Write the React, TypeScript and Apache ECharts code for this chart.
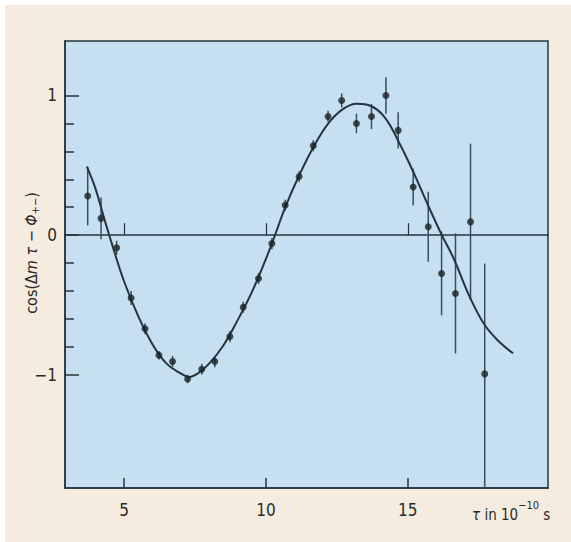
import React, { useEffect, useRef } from "react";
import * as echarts from "echarts";

// fitted curve
const curveX = [3.69, 4.0, 4.3, 4.6, 5.0, 5.5, 6.0, 6.5, 7.0, 7.3, 7.6, 8.0, 8.5, 9.0, 9.5, 10.0, 10.32, 10.7, 11.2, 11.7, 12.2, 12.7, 13.2, 13.7, 14.2, 14.7, 15.2, 15.7, 16.2, 16.6, 17.2, 17.7, 18.2, 18.71];
const curveY = [0.49, 0.33, 0.12, -0.08, -0.33, -0.58, -0.78, -0.92, -0.99, -1.015, -0.99, -0.92, -0.79, -0.61, -0.41, -0.17, 0.0, 0.21, 0.44, 0.64, 0.8, 0.9, 0.94, 0.925, 0.84, 0.66, 0.45, 0.22, 0.0, -0.16, -0.45, -0.64, -0.76, -0.845];

// measured points
const pointX = [3.72, 4.19, 4.74, 5.25, 5.74, 6.23, 6.71, 7.24, 7.74, 8.2, 8.73, 9.2, 9.74, 10.21, 10.68, 11.17, 11.67, 12.19, 12.67, 13.19, 13.72, 14.23, 14.66, 15.19, 15.72, 16.19, 16.68, 17.21, 17.71];
const pointY = [0.28, 0.12, -0.09, -0.45, -0.67, -0.86, -0.905, -1.03, -0.96, -0.905, -0.726, -0.516, -0.31, -0.06, 0.214, 0.42, 0.64, 0.85, 0.964, 0.8, 0.85, 1.0, 0.75, 0.345, 0.06, -0.274, -0.417, 0.095, -0.993];
const errUp = [0.21, 0.15, 0.05, 0.05, 0.04, 0.03, 0.04, 0.03, 0.04, 0.04, 0.04, 0.04, 0.04, 0.04, 0.04, 0.04, 0.04, 0.04, 0.05, 0.07, 0.09, 0.13, 0.13, 0.13, 0.25, 0.3, 0.43, 0.56, 0.79];
const errDown = [0.21, 0.15, 0.05, 0.05, 0.04, 0.03, 0.04, 0.03, 0.04, 0.04, 0.04, 0.04, 0.04, 0.04, 0.04, 0.04, 0.04, 0.04, 0.05, 0.07, 0.09, 0.13, 0.13, 0.13, 0.25, 0.3, 0.43, 0.56, 0.9];

const xTicks = [5, 10, 15];
const yMajor = [-1, 0, 1];
const yMinor = [-0.8, -0.6, -0.4, -0.2, 0.2, 0.4, 0.6, 0.8];

const FONT = "'Liberation Sans Narrow', 'DejaVu Sans Condensed', 'Roboto', 'Noto Sans', sans-serif";
const INK = "#26343c";
const TXT = "#2a2a2a";

export default function App() {
  const ref = useRef<HTMLDivElement>(null);
  useEffect(() => {
    if (!ref.current) return;
    const chart = echarts.init(ref.current, undefined, { renderer: "svg" });
    const curve = curveX.map((x, i) => [x, curveY[i]]);
    const pts = pointX.map((x, i) => [x, pointY[i]]);
    const bars = pointX.map((x, i) => [x, pointY[i] - errDown[i], pointY[i] + errUp[i]]);
    const fmt = (v: number) => (v < 0 ? "\u2212" + Math.abs(v) : String(v));
    chart.setOption({
      animation: false,
      backgroundColor: "transparent",
      textStyle: { fontFamily: FONT },
      grid: {
        left: 65, top: 41, right: 23, bottom: 54,
        show: true, backgroundColor: "#c6e0f2", borderColor: INK, borderWidth: 1.5,
      },
      xAxis: [
        {
          type: "value", min: 2.92, max: 19.94, position: "bottom",
          axisLine: { show: true, onZero: false, lineStyle: { color: INK, width: 1.5 } },
          axisTick: { show: true, inside: true, length: 10, customValues: xTicks, lineStyle: { color: INK, width: 1.5 } },
          axisLabel: { show: true, customValues: xTicks, margin: 13, fontSize: 17, color: TXT, fontFamily: FONT },
          splitLine: { show: false },
        },
        {
          type: "value", min: 2.92, max: 19.94, position: "bottom",
          axisLine: { show: true, onZero: true, lineStyle: { color: INK, width: 1.5 } },
          axisTick: { show: true, inside: true, length: 12, customValues: xTicks, lineStyle: { color: INK, width: 1.2 } },
          axisLabel: { show: false },
          splitLine: { show: false },
        },
      ],
      yAxis: [
        {
          type: "value", min: -1.81, max: 1.39, position: "left",
          axisLine: { show: true, onZero: false, lineStyle: { color: INK, width: 1.5 } },
          axisTick: { show: true, inside: true, length: 14, customValues: yMajor, lineStyle: { color: INK, width: 1.5 } },
          axisLabel: { show: true, customValues: yMajor, margin: 8, fontSize: 17, color: TXT, fontFamily: FONT, formatter: fmt },
          splitLine: { show: false },
        },
        {
          type: "value", min: -1.81, max: 1.39, position: "left",
          axisLine: { show: false, onZero: false },
          axisTick: { show: true, inside: true, length: 9, customValues: yMinor, lineStyle: { color: INK, width: 1.5 } },
          axisLabel: { show: false },
          splitLine: { show: false },
        },
      ],
      graphic: [
        {
          type: "text", x: 31, y: 253, rotation: Math.PI / 2,
          style: {
            text: "{n|cos(\u0394}{i|m}{n| }{i|\u03c4}{n| \u2212 }{i|\u03a6}{s|+\u2212}{n|)}",
            align: "center", verticalAlign: "middle",
            rich: {
              n: { fontSize: 16, fontFamily: FONT, fill: TXT, lineHeight: 20 },
              i: { fontSize: 16, fontFamily: FONT, fontStyle: "italic", fill: TXT, lineHeight: 20 },
              s: { fontSize: 11, fontFamily: FONT, fill: TXT, lineHeight: 20, verticalAlign: "bottom" },
            },
          },
        },
        {
          type: "text", x: 472, y: 511,
          style: {
            text: "{i|\u03c4}{n| in 10}{p|\u221210}{n| s}",
            align: "left", verticalAlign: "middle",
            rich: {
              n: { fontSize: 15, fontFamily: FONT, fill: TXT, lineHeight: 22, verticalAlign: "bottom" },
              i: { fontSize: 15, fontFamily: FONT, fontStyle: "italic", fill: TXT, lineHeight: 22, verticalAlign: "bottom" },
              p: { fontSize: 11, fontFamily: FONT, fill: TXT, lineHeight: 22, verticalAlign: "top" },
            },
          },
        },
      ],
      series: [
        {
          type: "custom", xAxisIndex: 0, yAxisIndex: 0, clip: true,
          data: bars,
          encode: { x: 0, y: [1, 2] },
          renderItem: (params: any, api: any) => {
            const x = api.value(0);
            const p1 = api.coord([x, api.value(1)]);
            const p2 = api.coord([x, api.value(2)]);
            return {
              type: "line",
              shape: { x1: p1[0], y1: p1[1], x2: p2[0], y2: p2[1] },
              style: { stroke: "#34505c", lineWidth: 1.5 },
            };
          },
          z: 3,
        },
        {
          type: "line", xAxisIndex: 0, yAxisIndex: 0, data: curve, smooth: 0.4,
          symbol: "none", lineStyle: { color: INK, width: 2 }, z: 4,
        },
        {
          type: "scatter", xAxisIndex: 0, yAxisIndex: 0, data: pts,
          symbol: "circle", symbolSize: 7, itemStyle: { color: "#1c2226" }, z: 5,
        },
      ],
    });
    return () => chart.dispose();
  }, []);
  return (
    <div style={{ position: "fixed", left: 0, top: 0, width: 571, height: 542, background: "#ffffff" }}>
      <div style={{ position: "absolute", left: 5, top: 5, width: 566, height: 537, background: "#f5ecdf" }} />
      <div ref={ref} style={{ position: "absolute", left: 0, top: 0, width: 571, height: 542 }} />
    </div>
  );
}
